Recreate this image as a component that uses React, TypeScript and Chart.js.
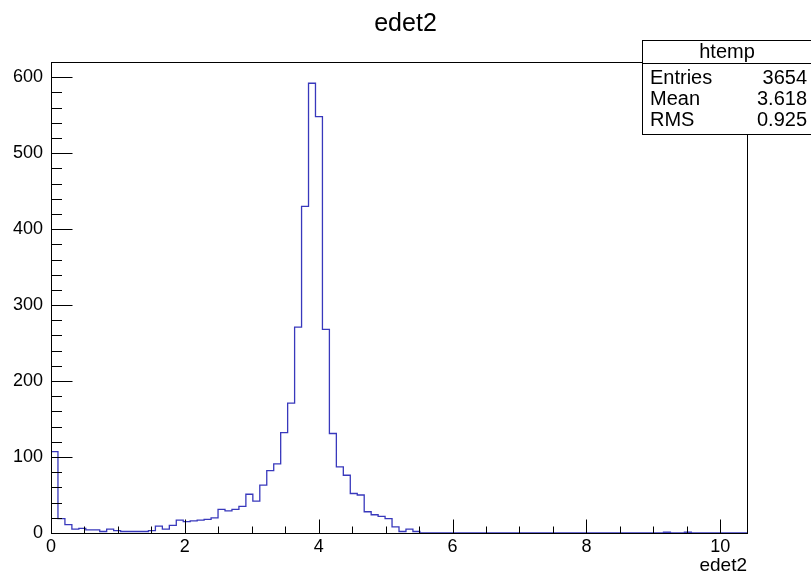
import React, { useEffect, useRef } from "react";
import { Chart, registerables } from "chart.js";

Chart.register(...registerables);

// ---- data ----
const TITLE = "edet2";
const X_TITLE = "edet2";
const X_MIN = 0;
const X_MAX = 10.4;
const BIN_WIDTH = 0.104;
const Y_MIN = 0;
const Y_MAX = 620;
const Y_MAJOR_STEP = 100;
const Y_MINOR_STEP = 20;
const X_MAJOR_STEP = 2;
const X_MINOR_STEP = 0.5;

// 100 bins, 0 .. 10.4
const COUNTS = [
  107, 19, 11, 5, 6, 4, 4, 2, 5, 3,
  2, 2, 2, 2, 3, 9, 5, 10, 17, 15,
  16, 17, 18, 20, 31, 29, 31, 35, 51, 42,
  63, 82, 91, 132, 171, 271, 430, 592, 548, 268,
  131, 87, 76, 52, 50, 28, 24, 22, 19, 8,
  2, 5, 2, 0, 0, 0, 0, 0, 0, 0,
  0, 0, 0, 0, 0, 0, 0, 0, 0, 0,
  0, 0, 0, 0, 0, 0, 0, 0, 0, 0,
  0, 0, 0, 0, 0, 0, 0, 0, 1, 0,
  0, 1, 0, 0, 0, 0, 0, 0, 0, 0,
];

const STATS_NAME = "htemp";
const STATS_LABELS = ["Entries", "Mean", "RMS"];
const STATS_VALUES = ["3654", "3.618", "0.925"];

const FONT = '"Liberation Sans", Arial, Helvetica, sans-serif';
const LINE_COLOR = "#3838bc";

const rootStyle = {
  id: "rootStyle",
  afterDatasetsDraw(chart: any) {
    const { ctx, chartArea: a, scales } = chart;
    const xs = scales.x;
    const ys = scales.y;
    ctx.save();
    ctx.strokeStyle = "#000";
    ctx.lineWidth = 1;
    const L = Math.round(a.left) + 0.5;
    const R = Math.round(a.right) + 0.5;
    const T = Math.round(a.top) + 0.5;
    const B = Math.round(a.bottom) + 0.5;
    ctx.strokeRect(L, T, R - L, B - T);
    ctx.beginPath();
    for (let v = Y_MIN; v <= Y_MAX + 1e-9; v += Y_MINOR_STEP) {
      const y = Math.round(ys.getPixelForValue(v)) + 0.5;
      const r = v / Y_MAJOR_STEP;
      const major = Math.abs(r - Math.round(r)) < 1e-6;
      const len = major ? 21 : 10.5;
      ctx.moveTo(L, y);
      ctx.lineTo(L + len, y);
    }
    for (let v = X_MIN; v <= X_MAX + 1e-9; v += X_MINOR_STEP) {
      const x = Math.round(xs.getPixelForValue(v)) + 0.5;
      const r = v / X_MAJOR_STEP;
      const major = Math.abs(r - Math.round(r)) < 1e-6;
      const len = major ? 14 : 7;
      ctx.moveTo(x, B);
      ctx.lineTo(x, B - len);
    }
    ctx.stroke();
    ctx.fillStyle = "#000";
    ctx.font = `19px ${FONT}`;
    ctx.textAlign = "right";
    ctx.textBaseline = "middle";
    ctx.fillText(X_TITLE, a.right, 566);
    ctx.restore();
  },
  afterDraw(chart: any) {
    const { ctx } = chart;
    ctx.save();
    const x0 = 642.5, y0 = 40.5, x1 = 812, y1 = 134.5;
    ctx.fillStyle = "#fff";
    ctx.fillRect(x0, y0, x1 - x0, y1 - y0);
    ctx.strokeStyle = "#000";
    ctx.lineWidth = 1;
    ctx.strokeRect(x0, y0, x1 - x0, y1 - y0);
    ctx.beginPath();
    ctx.moveTo(x0, 63.5);
    ctx.lineTo(x1, 63.5);
    ctx.stroke();
    ctx.fillStyle = "#000";
    ctx.font = `20px ${FONT}`;
    ctx.textBaseline = "middle";
    ctx.textAlign = "center";
    ctx.fillText(STATS_NAME, 727, 52);
    const rows = [78.5, 99.5, 120.5];
    STATS_LABELS.forEach((lab, i) => {
      ctx.textAlign = "left";
      ctx.fillText(lab, 650, rows[i]);
      ctx.textAlign = "right";
      ctx.fillText(STATS_VALUES[i], 807, rows[i]);
    });
    ctx.restore();
  },
};

export default function App() {
  const ref = useRef<HTMLCanvasElement | null>(null);

  useEffect(() => {
    if (!ref.current) return;
    const points: { x: number; y: number }[] = [{ x: X_MIN, y: 0 }];
    COUNTS.forEach((c, i) => points.push({ x: X_MIN + i * BIN_WIDTH, y: c }));
    points.push({ x: X_MAX, y: 0 });

    const chart = new Chart(ref.current, {
      type: "line",
      data: {
        datasets: [
          {
            label: "htemp",
            data: points,
            stepped: "before",
            borderColor: LINE_COLOR,
            borderWidth: 1.3,
            pointRadius: 0,
            fill: false,
            tension: 0,
          },
        ],
      },
      options: {
        animation: false,
        responsive: false,
        devicePixelRatio: 1,
        parsing: false,
        normalized: true,
        layout: { padding: 0 },
        plugins: {
          legend: { display: false },
          tooltip: { enabled: false },
          title: {
            display: true,
            text: TITLE,
            color: "#000",
            font: { family: FONT, size: 25, weight: "normal" },
            padding: { top: 9, bottom: 23 },
          },
        },
        scales: {
          x: {
            type: "linear",
            min: X_MIN,
            max: X_MAX,
            grid: { display: false, drawTicks: false },
            border: { display: false },
            ticks: {
              stepSize: X_MAJOR_STEP,
              includeBounds: false,
              autoSkip: false,
              maxRotation: 0,
              color: "#000",
              padding: 3,
              font: { family: FONT, size: 18 },
            },
            afterFit: (s: any) => {
              s.height = 41;
            },
          },
          y: {
            type: "linear",
            min: Y_MIN,
            max: Y_MAX,
            grid: { display: false, drawTicks: false },
            border: { display: false },
            ticks: {
              stepSize: Y_MAJOR_STEP,
              includeBounds: false,
              color: "#000",
              padding: 8,
              font: { family: FONT, size: 18 },
            },
            afterFit: (s: any) => {
              s.width = 51;
            },
          },
          yRight: {
            type: "linear",
            position: "right",
            display: true,
            grid: { display: false, drawTicks: false },
            border: { display: false },
            ticks: { display: false },
            afterFit: (s: any) => {
              s.width = 64;
            },
          },
        },
      },
      plugins: [rootStyle],
    } as any);
    return () => chart.destroy();
  }, []);

  return (
    <div style={{ position: "absolute", left: 0, top: 0, width: 811, height: 574, background: "#fff" }}>
      <canvas ref={ref} width={811} height={574} style={{ width: 811, height: 574, display: "block" }} />
    </div>
  );
}
